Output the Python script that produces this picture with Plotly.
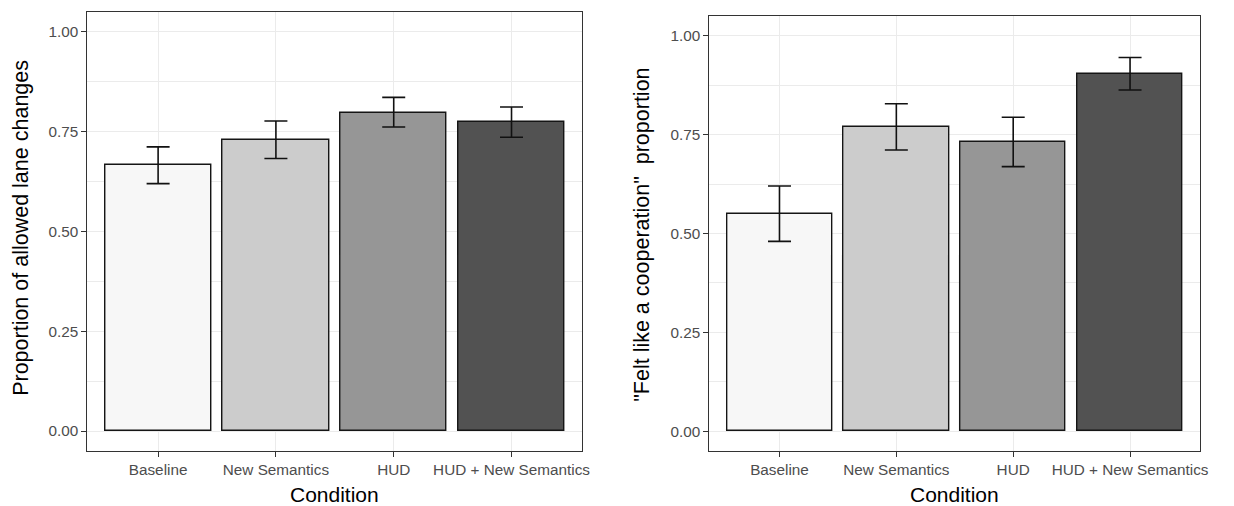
import plotly.graph_objects as go

W, H = 1234, 506

conditions = ["Baseline", "New Semantics", "HUD", "HUD + New Semantics"]
fills = ["#F7F7F7", "#CCCCCC", "#969696", "#525252"]

# Proportion of allowed lane changes (mean with 95% CI)
lane_mean = [0.666, 0.729, 0.798, 0.774]
lane_low = [0.620, 0.683, 0.762, 0.736]
lane_high = [0.712, 0.777, 0.836, 0.812]

# "Felt like a cooperation" proportion (mean with 95% CI)
coop_mean = [0.549, 0.769, 0.731, 0.903]
coop_low = [0.480, 0.711, 0.669, 0.863]
coop_high = [0.620, 0.828, 0.794, 0.945]

y_ticks = [0.0, 0.25, 0.5, 0.75, 1.0]
y_ticktext = ["0.00", "0.25", "0.50", "0.75", "1.00"]

FONT = "Liberation Sans, Arial, sans-serif"
GRID = "#EBEBEB"
BORDER = "#333333"
TICKTXT = "#4D4D4D"

fig = go.Figure()


def add_panel(mean, low, high, xref, yref):
    fig.add_trace(go.Bar(
        x=conditions, y=mean, width=0.9,
        marker=dict(color=fills, line=dict(color="#151515", width=1.4)),
        error_y=dict(type="data", symmetric=False,
                     array=[h - m for h, m in zip(high, mean)],
                     arrayminus=[m - l for m, l in zip(mean, low)],
                     color="#111111", thickness=1.6, width=11.5),
        xaxis=xref, yaxis=yref, showlegend=False,
    ))


add_panel(lane_mean, lane_low, lane_high, "x", "y")
add_panel(coop_mean, coop_low, coop_high, "x2", "y2")

xcommon = dict(
    type="category", range=[-0.6, 3.6], showgrid=True, gridcolor=GRID, gridwidth=1.1,
    showline=True, mirror=True, linecolor=BORDER, linewidth=1,
    ticks="outside", ticklen=5, tickcolor=BORDER, tickwidth=1,
    tickfont=dict(family=FONT, size=15.3, color=TICKTXT), zeroline=False,
)
ycommon = dict(
    range=[-0.05, 1.05], tickvals=y_ticks, ticktext=y_ticktext,
    showgrid=True, gridcolor=GRID, gridwidth=1.1,
    minor=dict(dtick=0.125, tick0=0, showgrid=True, gridcolor=GRID, gridwidth=0.6),
    showline=True, mirror=True, linecolor=BORDER, linewidth=1,
    ticks="outside", ticklen=5, tickcolor=BORDER, tickwidth=1,
    tickfont=dict(family=FONT, size=15.3, color=TICKTXT), zeroline=False,
)

fig.update_layout(
    width=W, height=H, margin=dict(l=0, r=0, t=0, b=0),
    paper_bgcolor="white", plot_bgcolor="white",
    bargap=0,
    xaxis=dict(domain=[88 / W, 586 / W], anchor="y", **xcommon),
    yaxis=dict(domain=[(H - 451) / H, (H - 12) / H], anchor="x", **ycommon),
    xaxis2=dict(domain=[714 / W, 1208 / W], anchor="y2", **xcommon),
    yaxis2=dict(domain=[(H - 451) / H, (H - 16) / H], anchor="x2", **ycommon),
)

title_font = dict(family=FONT, size=21, color="#000000")
for cx, label in [((88 + 586) / 2, "Condition"), ((714 + 1208) / 2, "Condition")]:
    fig.add_annotation(x=cx / W, y=(H - 494) / H, xref="paper", yref="paper",
                       text=label, showarrow=False, font=title_font,
                       xanchor="center", yanchor="middle")

fig.add_annotation(x=21 / W, y=(H - 228) / H, xref="paper", yref="paper",
                   text="Proportion of allowed lane changes", textangle=-90,
                   showarrow=False, font=dict(family=FONT, size=21.5, color="#000000"),
                   xanchor="center", yanchor="middle")
fig.add_annotation(x=646 / W, y=(H - 235) / H, xref="paper", yref="paper",
                   text="\"Felt like a cooperation\"  proportion", textangle=-90,
                   showarrow=False, font=dict(family=FONT, size=21.5, color="#000000"),
                   xanchor="center", yanchor="middle")

fig.write_html("out.html")
